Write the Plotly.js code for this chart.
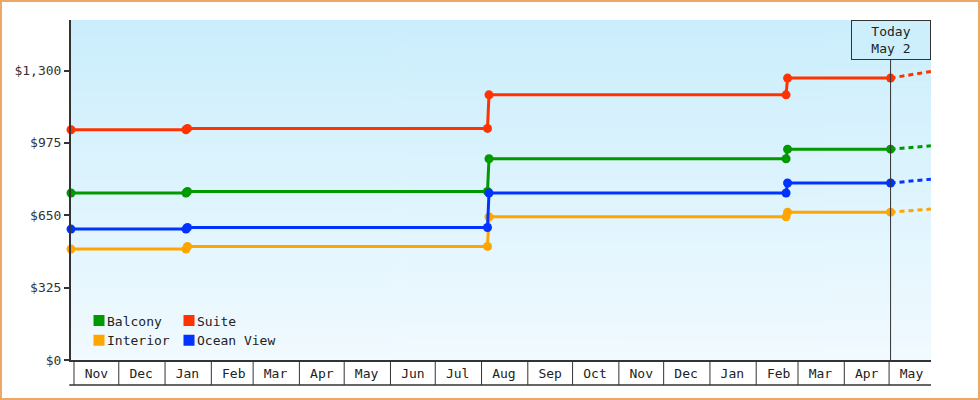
<!DOCTYPE html>
<html>
<head>
<meta charset="utf-8">
<script src="https://cdn.plot.ly/plotly-3.0.1.min.js"></script>
<style>
  body { margin: 0; background: #fff; }
  #wrap { position: relative; width: 980px; height: 400px; }
  #chart { position: absolute; left: 0; top: 0; width: 980px; height: 400px; }
  #frame { position: absolute; left: 0; top: 0; width: 980px; height: 400px;
           box-sizing: border-box; border: 2px solid #eaa966; pointer-events: none; }
</style>
</head>
<body>
<div id="wrap">
  <div id="chart"></div>
  <div id="frame"></div>
</div>
<script>
// price change dates (each change is drawn as old value / new value pair)
var priceDates = ['2021-10-30', '2022-01-15', '2022-01-16', '2022-08-05', '2022-08-06',
                  '2023-02-21', '2023-02-22', '2023-05-02'];
var balcony   = [750, 750, 757, 757, 904, 904, 947, 947];
var suite     = [1034, 1034, 1040, 1040, 1191, 1191, 1266, 1266];
var interior  = [498, 498, 510, 510, 643, 643, 664, 664];
var oceanView = [588, 588, 595, 595, 750, 750, 795, 795];

// projection after today
var projDates = ['2023-05-02', '2023-05-29'];
var balconyProj   = [947, 962];
var suiteProj     = [1266, 1296];
var interiorProj  = [664, 678];
var oceanViewProj = [795, 812];

var monthNames = ['Nov', 'Dec', 'Jan', 'Feb', 'Mar', 'Apr', 'May', 'Jun', 'Jul', 'Aug',
                  'Sep', 'Oct', 'Nov', 'Dec', 'Jan', 'Feb', 'Mar', 'Apr', 'May'];
var yTicks = [0, 325, 650, 975, 1300];
var yTickText = ['$0', '$325', '$650', '$975', '$1,300'];
var today = '2023-05-02';

var colors = { Balcony: '#009900', Suite: '#ff3300', Interior: '#ffa500', 'Ocean View': '#0033ff' };
var font = 'DejaVu Sans Mono, monospace';

function ymd(d) {
  return d.toISOString().slice(0, 10);
}

var monthStarts = [], monthMids = [];
monthNames.forEach(function(m, i) {
  monthStarts.push(ymd(new Date(Date.UTC(2021, 10 + i, 1))));
  monthMids.push(ymd(new Date(Date.UTC(2021, 10 + i, 16))));
});

var series = [
  ['Balcony', balcony, balconyProj],
  ['Suite', suite, suiteProj],
  ['Interior', interior, interiorProj],
  ['Ocean View', oceanView, oceanViewProj]
];

var data = [];
series.forEach(function(s) {
  data.push({
    x: projDates, y: s[2], mode: 'lines', showlegend: false, hoverinfo: 'skip',
    line: { color: colors[s[0]], width: 3, dash: '5px,4px' }
  });
});
series.forEach(function(s) {
  data.push({
    x: priceDates, y: s[1], mode: 'lines+markers', showlegend: false, cliponaxis: false,
    line: { color: colors[s[0]], width: 3 },
    marker: { color: colors[s[0]], size: 9 }
  });
});
// legend swatches: left column Balcony/Interior, right column Suite/Ocean View
[0, 2, 1, 3].forEach(function(i) {
  var s = series[i];
  data.push({
    x: [null], y: [null], mode: 'markers', name: s[0],
    legend: (i % 2 === 0) ? 'legend' : 'legend2',
    marker: { symbol: 'square', size: 11, color: colors[s[0]] }
  });
});

// gradient background for the plot area
var cv = document.createElement('canvas');
cv.width = 4; cv.height = 200;
var ctx = cv.getContext('2d');
var g = ctx.createLinearGradient(0, 0, 0, 200);
g.addColorStop(0, '#cbeefc');
g.addColorStop(1, '#f1faff');
ctx.fillStyle = g;
ctx.fillRect(0, 0, 4, 200);

var boxBottom = -25 / 340;
var shapes = monthStarts.map(function(d) {
  return { type: 'line', xref: 'x', yref: 'paper', x0: d, x1: d, y0: 0, y1: boxBottom,
           line: { color: '#333', width: 1 } };
});
shapes.push({ type: 'line', xref: 'paper', yref: 'paper', x0: -0.002, x1: 1, y0: boxBottom, y1: boxBottom,
              line: { color: '#333', width: 1.5 } });
shapes.push({ type: 'line', xref: 'x', yref: 'paper', x0: today, x1: today, y0: 0, y1: 300 / 340,
              line: { color: '#333', width: 1 } });

var legendBase = {
  orientation: 'v', xanchor: 'left', yanchor: 'middle', y: 29.5 / 340,
  bgcolor: 'rgba(0,0,0,0)', font: { family: font, size: 13, color: '#222' },
  tracegroupgap: 0, itemclick: false, itemdoubleclick: false
};

var layout = {
  width: 980, height: 400,
  margin: { l: 71, r: 49, t: 20, b: 40, pad: 0 },
  paper_bgcolor: '#fff',
  plot_bgcolor: 'rgba(0,0,0,0)',
  font: { family: font, size: 13, color: '#222' },
  showlegend: true,
  legend: Object.assign({}, legendBase, { x: 8 / 860 }),
  legend2: Object.assign({}, legendBase, { x: 98 / 860 }),
  xaxis: {
    type: 'date', range: ['2021-10-30', '2023-05-29 02:00'],
    showgrid: false, zeroline: false, showline: true, linecolor: '#333', linewidth: 2,
    tickmode: 'array', tickvals: monthMids, ticktext: monthNames, ticks: '',
    tickfont: { family: font, size: 13, color: '#222' }, fixedrange: true
  },
  yaxis: {
    range: [0, 1527], showgrid: false, zeroline: false,
    showline: true, linecolor: '#333', linewidth: 2,
    tickmode: 'array', tickvals: yTicks, ticktext: yTickText,
    ticks: 'outside', ticklen: 5, tickwidth: 2, tickcolor: '#333',
    tickfont: { family: font, size: 13, color: '#333' }, fixedrange: true
  },
  images: [{
    source: cv.toDataURL(), xref: 'paper', yref: 'paper', x: 0, y: 1,
    sizex: 1, sizey: 1, sizing: 'stretch', layer: 'below'
  }],
  shapes: shapes,
  annotations: [{
    xref: 'x', yref: 'paper', x: today, y: 320 / 340, yanchor: 'middle',
    text: 'Today<br>May 2', showarrow: false, align: 'center',
    font: { family: font, size: 13, color: '#222' },
    bgcolor: '#cdeffc', bordercolor: '#333', borderwidth: 1,
    width: 76, height: 36
  }]
};

// pull legend labels closer to their swatches
function tightenLegend() {
  var names = series.map(function(s) { return s[0]; });
  document.querySelectorAll('#chart svg text').forEach(function(t) {
    if (names.indexOf(t.textContent) >= 0) {
      t.setAttribute('x', 28);
    }
  });
}

Plotly.newPlot('chart', data, layout, { displayModeBar: false, staticPlot: true }).then(function() {
  tightenLegend();
  setTimeout(tightenLegend, 0);
  setTimeout(tightenLegend, 50);
});
</script>
</body>
</html>
